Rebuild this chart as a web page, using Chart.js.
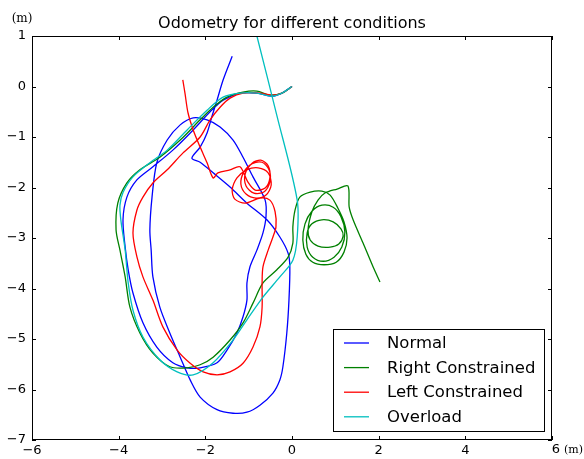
<!DOCTYPE html>
<html>
<head>
<meta charset="utf-8">
<script src="https://cdn.jsdelivr.net/npm/chart.js@4.4.0/dist/chart.umd.min.js"></script>
<style>
  html, body { margin: 0; padding: 0; background: #fff; }
</style>
</head>
<body>
<canvas id="chartCanvas" width="584" height="459"></canvas>
<script>
// trajectories, [x, y] in metres
const normalPath = [
  [0, 0], [-0.23, -0.13], [-0.46, -0.19], [-0.81, -0.13], [-1.20, -0.13], [-1.59, -0.27],
  [-1.89, -0.50], [-2.28, -0.86], [-2.75, -1.26], [-3.21, -1.59], [-3.58, -1.85], [-3.81, -2.19],
  [-3.90, -2.64], [-3.85, -3.18], [-3.78, -3.63], [-3.67, -4.09], [-3.44, -4.68], [-3.12, -5.16],
  [-2.75, -5.47], [-2.42, -5.57], [-2.12, -5.57], [-1.73, -5.47], [-1.50, -5.22], [-1.27, -4.88],
  [-1.13, -4.56], [-1.04, -4.23], [-1.04, -3.89], [-0.97, -3.57], [-0.81, -3.24], [-0.67, -2.90],
  [-0.60, -2.58], [-0.62, -2.25], [-0.90, -1.79], [-1.13, -1.40], [-1.36, -1.06], [-1.66, -0.80],
  [-1.96, -0.66], [-2.28, -0.62], [-2.58, -0.76], [-2.88, -1.06], [-3.12, -1.51], [-3.23, -2.19],
  [-3.28, -2.84], [-3.25, -3.24], [-3.21, -3.77], [-3.05, -4.37], [-2.82, -4.88], [-2.58, -5.36],
  [-2.35, -5.81], [-2.12, -6.15], [-1.73, -6.40], [-1.36, -6.47], [-1.04, -6.45], [-0.74, -6.31],
  [-0.44, -6.07], [-0.28, -5.81], [-0.21, -5.55], [-0.12, -4.88], [-0.07, -4.23], [-0.05, -3.57],
  [-0.09, -3.30], [-0.28, -2.98], [-0.58, -2.64], [-1.04, -2.31], [-1.43, -1.99], [-1.82, -1.71],
  [-2.12, -1.50], [-2.31, -1.42], [-2.12, -1.20], [-1.96, -0.92], [-1.85, -0.60], [-1.73, -0.27],
  [-1.59, 0.13], [-1.38, 0.60]
];
const rightPath = [
  [0, 0], [-0.23, -0.13], [-0.51, -0.17], [-0.81, -0.09], [-1.13, -0.11], [-1.50, -0.21],
  [-1.82, -0.41], [-2.12, -0.66], [-2.58, -1.06], [-3.05, -1.40], [-3.51, -1.65], [-3.81, -1.91],
  [-4.02, -2.31], [-4.06, -2.84], [-3.97, -3.24], [-3.85, -3.77], [-3.74, -4.37], [-3.51, -4.88],
  [-3.21, -5.28], [-2.82, -5.55], [-2.42, -5.57], [-2.12, -5.51], [-1.82, -5.36], [-1.43, -5.02],
  [-1.13, -4.68], [-0.90, -4.29], [-0.67, -3.89], [-0.35, -3.63], [-0.09, -3.38], [0.02, -3.10],
  [0.02, -2.78], [0.07, -2.45], [0.18, -2.19], [0.42, -2.09], [0.69, -2.07], [0.88, -2.15],
  [1.06, -2.41], [1.20, -2.68], [1.27, -3.00], [1.20, -3.28], [1.02, -3.48], [0.74, -3.53],
  [0.48, -3.48], [0.32, -3.32], [0.25, -3.04], [0.30, -2.72], [0.46, -2.47], [0.69, -2.35],
  [0.95, -2.39], [1.13, -2.58], [1.22, -2.88], [1.15, -3.18], [0.97, -3.38], [0.72, -3.46],
  [0.48, -3.38], [0.35, -3.18], [0.35, -2.90], [0.46, -2.72], [0.69, -2.64], [0.95, -2.68],
  [1.13, -2.82], [1.18, -2.96], [1.08, -3.12], [0.88, -3.18], [0.60, -3.16], [0.42, -3.04],
  [0.37, -2.84], [0.46, -2.48], [0.60, -2.25], [0.76, -2.11], [1.04, -2.03], [1.29, -1.97],
  [1.32, -2.39], [1.41, -2.64], [1.64, -3.10], [1.87, -3.57], [2.03, -3.87]
];
const leftPath = [
  [0, 0], [-0.23, -0.13], [-0.44, -0.17], [-0.74, -0.13], [-1.13, -0.13], [-1.43, -0.23],
  [-1.66, -0.41], [-1.89, -0.66], [-2.12, -1.00], [-2.52, -1.32], [-2.88, -1.65], [-3.21, -1.91],
  [-3.44, -2.19], [-3.58, -2.45], [-3.67, -2.90], [-3.58, -3.37], [-3.44, -3.77], [-3.21, -4.23],
  [-2.98, -4.76], [-2.65, -5.22], [-2.35, -5.48], [-2.05, -5.65], [-1.73, -5.71], [-1.43, -5.65],
  [-1.13, -5.48], [-0.90, -5.16], [-0.74, -4.76], [-0.69, -4.37], [-0.69, -3.89], [-0.67, -3.57],
  [-0.55, -3.24], [-0.44, -2.98], [-0.37, -2.78], [-0.39, -2.48], [-0.51, -2.25], [-0.74, -2.21],
  [-1.08, -2.31], [-1.32, -2.23], [-1.38, -2.05], [-1.27, -1.81], [-1.04, -1.65], [-0.78, -1.61],
  [-0.55, -1.71], [-0.48, -1.95], [-0.60, -2.15], [-0.83, -2.21], [-1.06, -2.13], [-1.18, -1.93],
  [-1.11, -1.69], [-0.92, -1.53], [-0.69, -1.50], [-0.53, -1.65], [-0.51, -1.89], [-0.65, -2.09],
  [-0.88, -2.11], [-1.06, -1.97], [-1.08, -1.73], [-0.92, -1.52], [-0.72, -1.46], [-0.55, -1.57],
  [-0.51, -1.81], [-0.62, -2.01], [-0.85, -2.05], [-1.02, -1.89], [-1.20, -1.59], [-1.43, -1.65],
  [-1.71, -1.71], [-1.82, -1.81], [-1.96, -1.51], [-2.12, -1.20], [-2.28, -0.86], [-2.40, -0.52],
  [-2.47, -0.13], [-2.52, 0.13]
];
const overloadPath = [
  [0, 0], [-0.23, -0.13], [-0.46, -0.19], [-0.81, -0.13], [-1.20, -0.13], [-1.59, -0.21],
  [-1.96, -0.47], [-2.42, -0.86], [-2.88, -1.26], [-3.28, -1.51], [-3.67, -1.79], [-3.90, -2.10],
  [-3.97, -2.35], [-3.95, -2.64], [-3.85, -3.24], [-3.78, -3.89], [-3.67, -4.43], [-3.44, -4.96],
  [-3.05, -5.41], [-2.65, -5.65], [-2.28, -5.71], [-1.82, -5.47], [-1.36, -5.02], [-1.04, -4.62],
  [-0.67, -4.17], [-0.28, -3.77], [0.02, -3.44], [0.12, -2.98], [0.12, -2.25], [-0.35, -0.57],
  [-0.81, 1.00]
];

const seriesNames = ['Normal', 'Right Constrained', 'Left Constrained', 'Overload'];
const seriesPaths = [normalPath, rightPath, leftPath, overloadPath];
const seriesColors = ['#0000ff', '#008000', '#ff0000', '#00bfbf'];
const xTicks = [-6, -4, -2, 0, 2, 4, 6];
const yTicks = [1, 0, -1, -2, -3, -4, -5, -6, -7];
const chartTitle = 'Odometry for different conditions';
const unitLabel = '(m)';

const fmt = v => (v < 0 ? '\u2212' + Math.abs(v) : String(v));

// frame, inward ticks, title, unit labels and the legend box
const framePlugin = {
  id: 'framePlugin',
  afterDatasetsDraw(chart) {
    const { ctx, chartArea: a, scales: { x, y } } = chart;
    ctx.save();
    ctx.strokeStyle = '#000';
    ctx.lineWidth = 1;
    ctx.strokeRect(a.left + 0.5, a.top + 0.5, a.right - a.left - 1, a.bottom - a.top - 1);
    ctx.beginPath();
    xTicks.forEach(v => {
      const px = Math.round(x.getPixelForValue(v)) + 0.5;
      ctx.moveTo(px, a.top); ctx.lineTo(px, a.top + 4);
      ctx.moveTo(px, a.bottom); ctx.lineTo(px, a.bottom - 4);
    });
    yTicks.forEach(v => {
      const py = Math.round(y.getPixelForValue(v)) + 0.5;
      ctx.moveTo(a.left, py); ctx.lineTo(a.left + 4, py);
      ctx.moveTo(a.right, py); ctx.lineTo(a.right - 4, py);
    });
    ctx.stroke();

    ctx.fillStyle = '#000';
    ctx.font = '16px "DejaVu Sans"';
    ctx.textAlign = 'center';
    ctx.textBaseline = 'alphabetic';
    ctx.fillText(chartTitle, (a.left + a.right) / 2, a.top - 8);

    // last x tick label sits a little to the right, followed by the unit
    ctx.font = '13px "DejaVu Sans"';
    ctx.textBaseline = 'middle';
    const x6 = x.getPixelForValue(xTicks[xTicks.length - 1]);
    ctx.fillText(fmt(xTicks[xTicks.length - 1]), x6 + 4, a.bottom + 10);
    ctx.font = '11px "DejaVu Serif"';
    ctx.textAlign = 'left';
    ctx.fillText(unitLabel, x6 + 12, a.bottom + 10);
    ctx.font = '12px "DejaVu Serif"';
    ctx.textAlign = 'center';
    ctx.fillText(unitLabel, 22, a.top - 17);

    // legend
    const lx = 333, ly = 329, lw = 211, lh = 102;
    ctx.fillStyle = '#fff';
    ctx.fillRect(lx, ly, lw, lh);
    ctx.strokeRect(lx + 0.5, ly + 0.5, lw, lh);
    ctx.font = '16.5px "DejaVu Sans"';
    ctx.textAlign = 'left';
    chart.data.datasets.forEach((ds, i) => {
      const rowY = ly + 14 + i * 24.6;
      ctx.strokeStyle = ds.borderColor;
      ctx.lineWidth = 1.3;
      ctx.beginPath();
      ctx.moveTo(lx + 11, rowY);
      ctx.lineTo(lx + 36, rowY);
      ctx.stroke();
      ctx.fillStyle = '#000';
      ctx.fillText(ds.label, lx + 54, rowY + 1);
    });
    ctx.restore();
  }
};

const ctx = document.getElementById('chartCanvas').getContext('2d');
window.currentChart = new Chart(ctx, {
  type: 'scatter',
  data: {
    datasets: seriesNames.map((name, i) => ({
      label: name,
      data: seriesPaths[i].map(p => ({ x: p[0], y: p[1] })),
      showLine: true,
      borderColor: seriesColors[i],
      backgroundColor: seriesColors[i],
      borderWidth: 1.3,
      pointRadius: 0,
      tension: 0.3,
      order: seriesNames.length - i
    }))
  },
  options: {
    responsive: false,
    animation: false,
    layout: { padding: { top: 36, right: 32, left: 0, bottom: 0 } },
    plugins: {
      legend: { display: false },
      title: { display: false },
      tooltip: { enabled: false }
    },
    scales: {
      x: {
        type: 'linear',
        min: -6,
        max: 6,
        afterFit: s => { s.height = 19; },
        afterBuildTicks: s => { s.ticks = xTicks.map(v => ({ value: v })); },
        grid: { display: false, drawTicks: false },
        border: { display: false },
        ticks: {
          color: '#000',
          padding: 3,
          maxRotation: 0,
          font: { family: 'DejaVu Sans', size: 13 },
          callback: v => (v === 6 ? '' : fmt(v))
        }
      },
      y: {
        type: 'linear',
        min: -7,
        max: 1,
        afterFit: s => { s.width = 32; },
        afterBuildTicks: s => { s.ticks = yTicks.map(v => ({ value: v })); },
        grid: { display: false, drawTicks: false },
        border: { display: false },
        ticks: {
          color: '#000',
          padding: 6,
          font: { family: 'DejaVu Sans', size: 13 },
          callback: v => fmt(v)
        }
      }
    }
  },
  plugins: [framePlugin]
});
</script>
</body>
</html>
